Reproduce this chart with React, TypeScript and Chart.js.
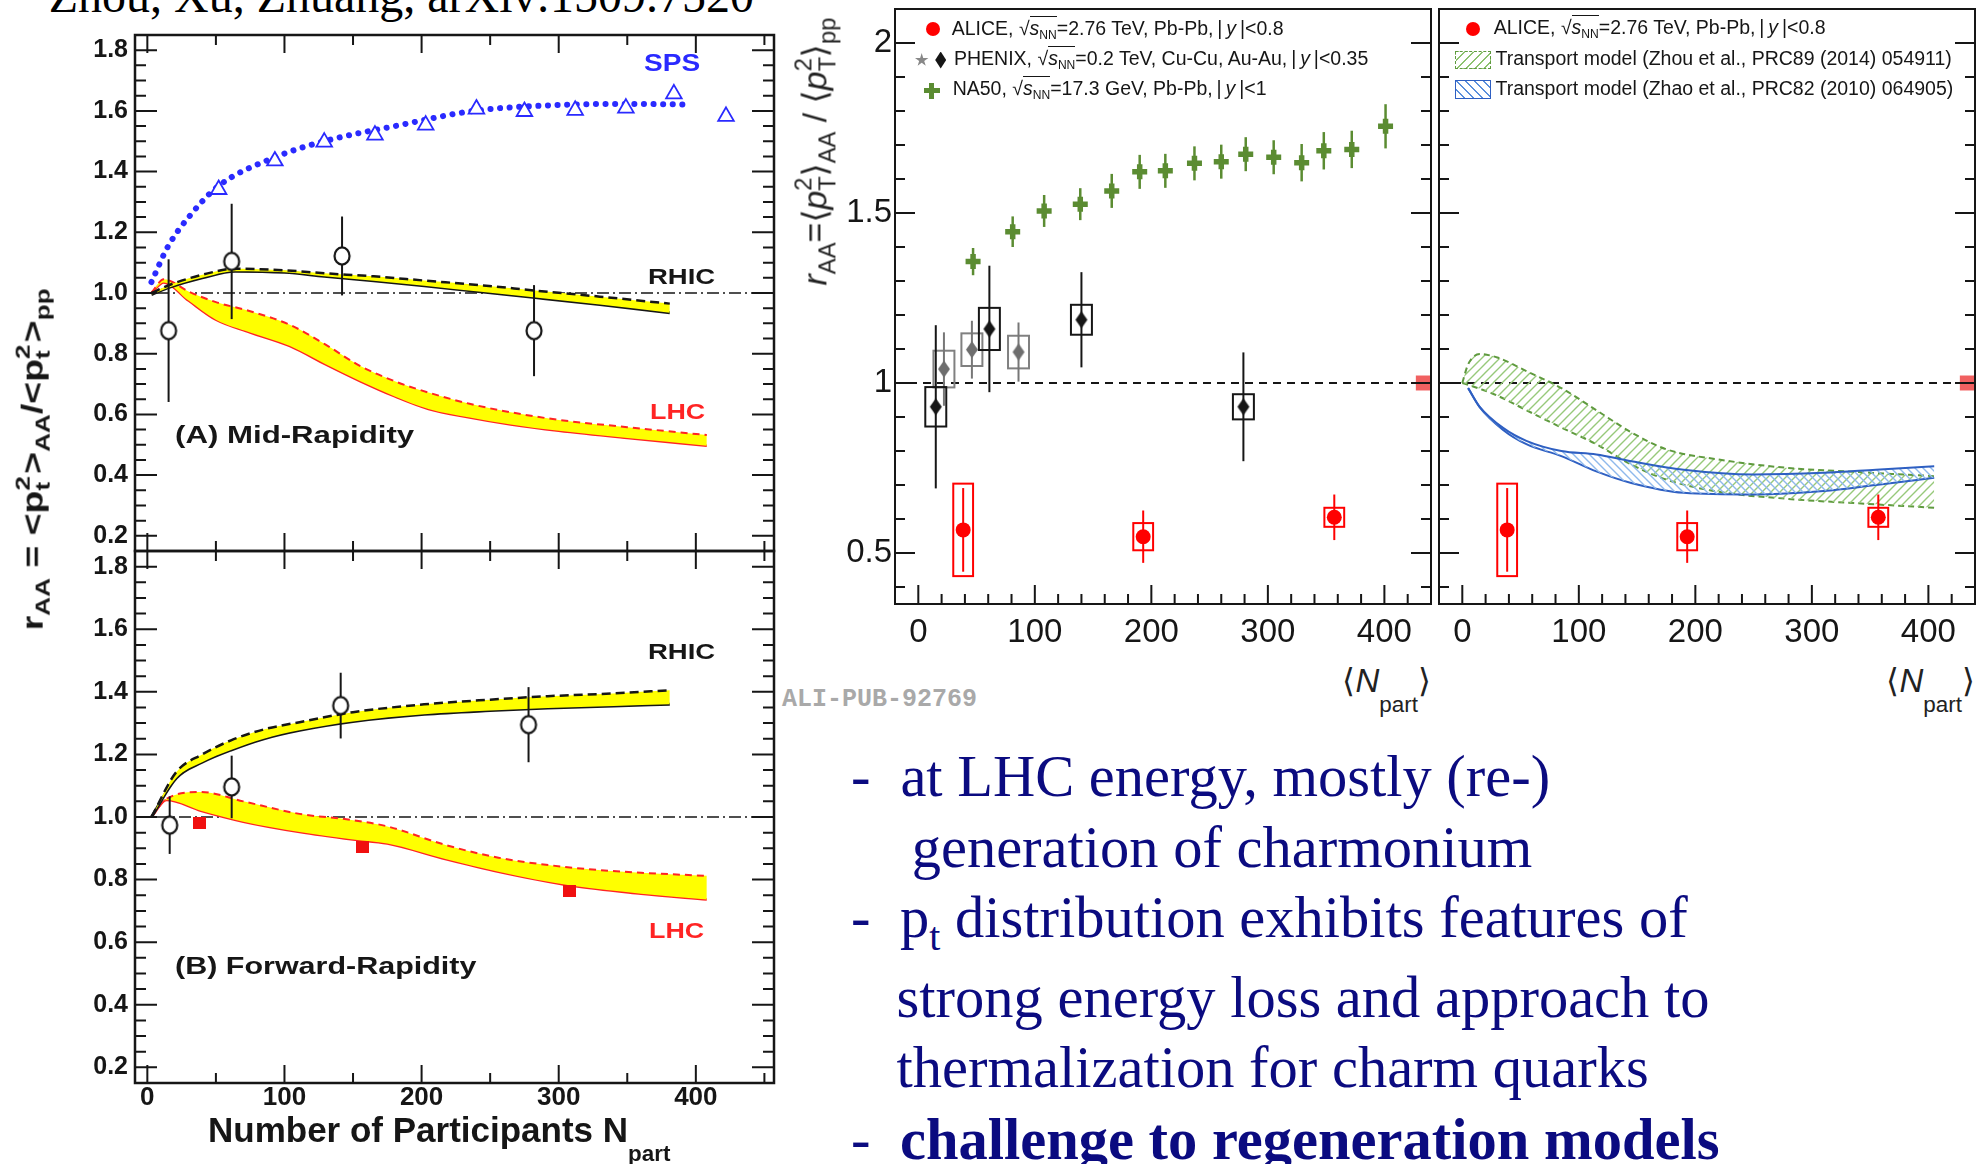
import React, { useEffect, useRef } from "react";
import { Chart, registerables } from "chart.js";

Chart.register(...registerables);

// ---------------- Left figure: transport model vs. data ----------------
const LEFT_X_RANGE: [number, number] = [-9, 457];
const LEFT_Y_RANGE: [number, number] = [0.15, 1.85];
const LEFT_X_TICKS = [0, 100, 200, 300, 400];
const LEFT_Y_TICKS = [0.2, 0.4, 0.6, 0.8, 1.0, 1.2, 1.4, 1.6, 1.8];

// (A) mid rapidity
const SPS_DATA_N = [52, 93, 129, 166, 203, 240, 275, 312, 349, 384, 422];
const SPS_DATA_R = [1.341, 1.435, 1.497, 1.52, 1.553, 1.606, 1.598, 1.602, 1.609, 1.656, 1.582];
const SPS_MODEL_N = [3, 15, 32, 52, 93, 129, 184, 238, 292, 346, 393];
const SPS_MODEL_R = [1.036, 1.153, 1.26, 1.353, 1.447, 1.5, 1.553, 1.6, 1.618, 1.623, 1.621];

const A_RHIC_DATA_N = [15.5, 61.5, 142, 282];
const A_RHIC_DATA_R = [0.876, 1.104, 1.122, 0.876];
const A_RHIC_DATA_ERR = [0.235, 0.19, 0.13, 0.15];

const A_RHIC_BAND_N = [3, 17, 40, 64, 100, 129, 165, 202, 245, 283, 330, 381];
const A_RHIC_BAND_HI = [1.0, 1.028, 1.06, 1.08, 1.075, 1.065, 1.055, 1.041, 1.025, 1.008, 0.988, 0.965];
const A_RHIC_BAND_LO = [0.995, 1.02, 1.05, 1.072, 1.068, 1.055, 1.04, 1.024, 1.003, 0.985, 0.962, 0.935];

const A_LHC_BAND_N = [3, 12, 30, 50, 75, 104, 130, 155, 180, 205, 235, 265, 300, 350, 408];
const A_LHC_BAND_HI = [1.0, 1.045, 1.005, 0.97, 0.94, 0.895, 0.83, 0.76, 0.71, 0.672, 0.635, 0.607, 0.582, 0.558, 0.532];
const A_LHC_BAND_LO = [1.0, 1.035, 0.975, 0.912, 0.87, 0.825, 0.765, 0.71, 0.66, 0.618, 0.59, 0.567, 0.546, 0.522, 0.497];

// (B) forward rapidity
const B_RHIC_DATA_N = [16.3, 61.5, 141, 278];
const B_RHIC_DATA_R = [0.974, 1.096, 1.356, 1.295];
const B_RHIC_DATA_ERR = [0.092, 0.1, 0.105, 0.12];

const B_LHC_DATA_N = [38, 157, 308];
const B_LHC_DATA_R = [0.982, 0.905, 0.762];

const B_RHIC_BAND_N = [3, 21, 40, 61, 85, 111, 150, 202, 250, 292, 340, 381];
const B_RHIC_BAND_HI = [1.0, 1.143, 1.2, 1.245, 1.28, 1.303, 1.335, 1.36, 1.375, 1.386, 1.395, 1.405];
const B_RHIC_BAND_LO = [1.0, 1.124, 1.175, 1.214, 1.25, 1.277, 1.305, 1.328, 1.34, 1.348, 1.355, 1.36];

const B_LHC_BAND_N = [3, 14, 39, 70, 111, 150, 175, 218, 256, 310, 360, 408];
const B_LHC_BAND_HI = [1.0, 1.058, 1.08, 1.05, 1.01, 0.99, 0.97, 0.91, 0.87, 0.838, 0.822, 0.812];
const B_LHC_BAND_LO = [1.0, 1.054, 1.02, 0.985, 0.952, 0.928, 0.915, 0.865, 0.825, 0.78, 0.755, 0.736];

const UNITY_LINE_N = [-9, 457];
const UNITY_LINE_R = [1, 1];

// ---------------- Right figure: ALICE r_AA ----------------
const ALICE_X_RANGE: [number, number] = [-20, 440];
const ALICE_Y_RANGE: [number, number] = [0.35, 2.1];
const ALICE_X_TICKS = [0, 100, 200, 300, 400];
const ALICE_Y_TICKS = [0.5, 1, 1.5, 2];

const ALICE_N = [38.5, 193, 357];
const ALICE_R = [0.568, 0.548, 0.605];
const ALICE_STAT = [0.123, 0.077, 0.067];
const ALICE_SYST = [0.136, 0.04, 0.028];
const ALICE_NORM_UNC = 0.022;

const PHENIX_AU_N = [15, 61, 140, 279];
const PHENIX_AU_R = [0.93, 1.159, 1.186, 0.93];
const PHENIX_AU_STAT = [0.24, 0.186, 0.14, 0.16];
const PHENIX_AU_SYST = [0.058, 0.062, 0.044, 0.037];

const PHENIX_CU_N = [22, 46, 86];
const PHENIX_CU_R = [1.041, 1.098, 1.091];
const PHENIX_CU_STAT = [0.108, 0.085, 0.087];
const PHENIX_CU_SYST = [0.054, 0.048, 0.048];

const NA50_N = [47, 81, 108, 139, 166, 190, 212, 237, 260, 281, 305, 329, 348, 372, 401];
const NA50_R = [1.357, 1.445, 1.506, 1.526, 1.565, 1.621, 1.624, 1.646, 1.651, 1.673, 1.664, 1.648, 1.683, 1.687, 1.755];
const NA50_ERR = [0.04, 0.045, 0.047, 0.047, 0.05, 0.05, 0.05, 0.05, 0.05, 0.05, 0.05, 0.055, 0.055, 0.055, 0.065];

const ZHOU_N = [0, 5, 15, 30, 55, 85, 115, 145, 175, 220, 280, 340, 405];
const ZHOU_HI = [1.0, 1.055, 1.085, 1.075, 1.035, 0.985, 0.92, 0.855, 0.805, 0.775, 0.75, 0.738, 0.726];
const ZHOU_LO = [1.0, 0.995, 0.983, 0.963, 0.92, 0.869, 0.82, 0.76, 0.716, 0.68, 0.659, 0.646, 0.633];

const ZHAO_N = [5, 15, 35, 55, 85, 115, 145, 190, 250, 310, 355, 405];
const ZHAO_HI = [0.985, 0.93, 0.868, 0.83, 0.8, 0.79, 0.77, 0.745, 0.731, 0.736, 0.745, 0.755];
const ZHAO_LO = [0.985, 0.928, 0.862, 0.82, 0.785, 0.74, 0.706, 0.677, 0.672, 0.682, 0.7, 0.721];

const ALICE_UNITY_N = [-20, 440];
const ALICE_UNITY_R = [1, 1];

// ---------------- colours ----------------
const INK = "#161616";
const YELLOW = "#ffff00";
const LHC_RED = "#ff2424";
const SPS_BLUE = "#2a2aff";
const NA50_GREEN = "#5b8c32";
const NAVY = "#0b0b80";

// ---------------- helpers ----------------
type Frame = { l: number; t: number; r: number; b: number };
type Pad = { l: number; t: number; r: number; b: number };

const pts = (xs: number[], ys: number[]) => xs.map((x, i) => ({ x, y: ys[i] }));

function minorsOf(min: number, max: number, step: number, majors: number[]) {
  const out: number[] = [];
  const start = Math.ceil(min / step - 1e-9) * step;
  for (let v = start; v <= max + 1e-9; v += step) {
    const r = Math.round(v * 1e6) / 1e6;
    if (majors.some((m) => Math.abs(m - r) < 1e-6)) continue;
    out.push(r);
  }
  return out;
}

function markerCanvas(w: number, h: number, draw: (c: CanvasRenderingContext2D) => void) {
  const c = document.createElement("canvas");
  c.width = w;
  c.height = h;
  draw(c.getContext("2d")!);
  return c;
}

function hatchPattern(target: CanvasRenderingContext2D, color: string, forward: boolean, size: number, lw: number) {
  const tile = markerCanvas(size, size, (c) => {
    c.strokeStyle = color;
    c.lineWidth = lw;
    c.beginPath();
    if (forward) {
      c.moveTo(0, size); c.lineTo(size, 0);
      c.moveTo(-size / 2, size / 2); c.lineTo(size / 2, -size / 2);
      c.moveTo(size / 2, size * 1.5); c.lineTo(size * 1.5, size / 2);
    } else {
      c.moveTo(0, 0); c.lineTo(size, size);
      c.moveTo(-size / 2, size / 2); c.lineTo(size / 2, size * 1.5);
      c.moveTo(size / 2, -size / 2); c.lineTo(size * 1.5, size / 2);
    }
    c.stroke();
  });
  return target.createPattern(tile, "repeat");
}

// Frame with inward ticks on chosen sides, plus optional normalisation box.
const frameTicks = {
  id: "frameTicks",
  afterDatasetsDraw(chart: any, _args: any, o: any) {
    const { ctx, chartArea: a } = chart;
    const xs = chart.scales.x;
    const ys = chart.scales.y;
    ctx.save();
    if (o.normBox) {
      const nb = o.normBox;
      const x0 = xs.getPixelForValue(nb.x0);
      const x1 = xs.getPixelForValue(nb.x1);
      const y0 = ys.getPixelForValue(1 + nb.half);
      const y1 = ys.getPixelForValue(1 - nb.half);
      ctx.fillStyle = nb.color;
      ctx.fillRect(x0, y0, x1 - x0, y1 - y0);
    }
    ctx.strokeStyle = o.color;
    ctx.lineWidth = o.tickWidth;
    ctx.beginPath();
    const tickX = (v: number, len: number) => {
      const p = xs.getPixelForValue(v);
      if (p <= a.left + 1 || p >= a.right - 1) return;
      if (o.xSides.includes("bottom")) { ctx.moveTo(p, a.bottom); ctx.lineTo(p, a.bottom - len); }
      if (o.xSides.includes("top")) { ctx.moveTo(p, a.top); ctx.lineTo(p, a.top + len); }
    };
    const tickY = (v: number, len: number) => {
      const p = ys.getPixelForValue(v);
      if (p <= a.top + 1 || p >= a.bottom - 1) return;
      if (o.ySides.includes("left")) { ctx.moveTo(a.left, p); ctx.lineTo(a.left + len, p); }
      if (o.ySides.includes("right")) { ctx.moveTo(a.right, p); ctx.lineTo(a.right - len, p); }
    };
    o.xMajor.forEach((v: number) => tickX(v, o.xLen[0]));
    minorsOf(xs.min, xs.max, o.xMinorStep, o.xMajor).forEach((v) => tickX(v, o.xLen[1]));
    o.yMajor.forEach((v: number) => tickY(v, o.yLen[0]));
    minorsOf(ys.min, ys.max, o.yMinorStep, o.yMajor).forEach((v) => tickY(v, o.yLen[1]));
    ctx.stroke();
    ctx.lineWidth = o.frameWidth;
    ctx.strokeRect(a.left, a.top, a.right - a.left, a.bottom - a.top);
    ctx.restore();
  },
};

// Vertical error bars and systematic boxes, drawn just under each dataset's markers.
const errorBars = {
  id: "errorBars",
  beforeDatasetDraw(chart: any, args: any) {
    const ds = chart.data.datasets[args.index];
    if (!ds.errY && !ds.sys) return;
    const { ctx } = chart;
    const xs = chart.scales.x;
    const ys = chart.scales.y;
    ctx.save();
    ds.data.forEach((p: any, i: number) => {
      const px = xs.getPixelForValue(p.x);
      if (ds.sys) {
        const s = ds.sys[i];
        const x0 = xs.getPixelForValue(p.x - ds.sysHalfW);
        const x1 = xs.getPixelForValue(p.x + ds.sysHalfW);
        const y0 = ys.getPixelForValue(p.y + s);
        const y1 = ys.getPixelForValue(p.y - s);
        ctx.strokeStyle = ds.sysColor;
        ctx.lineWidth = ds.sysWidth;
        ctx.strokeRect(x0, y0, x1 - x0, y1 - y0);
      }
      if (ds.errY) {
        const e = ds.errY[i];
        ctx.strokeStyle = ds.errColor;
        ctx.lineWidth = ds.errWidth;
        ctx.beginPath();
        ctx.moveTo(px, ys.getPixelForValue(p.y + e));
        ctx.lineTo(px, ys.getPixelForValue(p.y - e));
        ctx.stroke();
      }
    });
    ctx.restore();
  },
};

type Spec = {
  frame: Frame;
  pad: Pad;
  xRange: [number, number];
  yRange: [number, number];
  xTicks: number[];
  yTicks: number[];
  xMinor: number;
  yMinor: number;
  xLabels: boolean;
  yLabels: boolean;
  xFont: any;
  yFont: any;
  xPad: number;
  yPad: number;
  yFmt: (v: number) => string;
  xSides: string[];
  ySides: string[];
  xLen: [number, number];
  yLen: [number, number];
  frameWidth: number;
  normBox?: any;
  datasets: (ctx: CanvasRenderingContext2D) => any[];
};

function buildConfig(spec: Spec, ctx: CanvasRenderingContext2D): any {
  const { pad } = spec;
  return {
    type: "line",
    data: { datasets: spec.datasets(ctx) },
    options: {
      responsive: false,
      animation: false,
      events: [],
      layout: { autoPadding: false, padding: { left: 0, top: pad.t, right: pad.r, bottom: 0 } },
      plugins: {
        legend: { display: false },
        tooltip: { enabled: false },
        colors: { enabled: false },
        frameTicks: {
          color: INK,
          tickWidth: 2,
          frameWidth: spec.frameWidth,
          xMajor: spec.xTicks,
          yMajor: spec.yTicks,
          xMinorStep: spec.xMinor,
          yMinorStep: spec.yMinor,
          xSides: spec.xSides,
          ySides: spec.ySides,
          xLen: spec.xLen,
          yLen: spec.yLen,
          normBox: spec.normBox,
        },
      },
      scales: {
        x: {
          type: "linear",
          min: spec.xRange[0],
          max: spec.xRange[1],
          grid: { display: false, drawTicks: false },
          border: { display: false },
          ticks: {
            display: spec.xLabels,
            font: spec.xFont,
            color: INK,
            padding: spec.xPad,
            maxRotation: 0,
            autoSkip: false,
            callback: (v: any) => String(v),
          },
          afterBuildTicks: (s: any) => {
            s.ticks = spec.xTicks.map((v) => ({ value: v }));
          },
          afterFit: (s: any) => {
            s.height = pad.b;
            s.paddingLeft = 0;
            s.paddingRight = 0;
            s.paddingTop = 0;
            s.paddingBottom = 0;
          },
        },
        y: {
          type: "linear",
          min: spec.yRange[0],
          max: spec.yRange[1],
          grid: { display: false, drawTicks: false },
          border: { display: false },
          ticks: {
            display: spec.yLabels,
            font: spec.yFont,
            color: INK,
            padding: spec.yPad,
            autoSkip: false,
            callback: (v: any) => spec.yFmt(Number(v)),
          },
          afterBuildTicks: (s: any) => {
            s.ticks = spec.yTicks.map((v) => ({ value: v }));
          },
          afterFit: (s: any) => {
            s.width = pad.l;
            s.paddingLeft = 0;
            s.paddingRight = 0;
            s.paddingTop = 0;
            s.paddingBottom = 0;
          },
        },
      },
    },
    plugins: [frameTicks, errorBars],
  };
}

function PlotCanvas({ spec }: { spec: Spec }) {
  const ref = useRef<HTMLCanvasElement>(null);
  const { frame: f, pad } = spec;
  const left = f.l - pad.l;
  const top = f.t - pad.t;
  const width = f.r - f.l + pad.l + pad.r;
  const height = f.b - f.t + pad.t + pad.b;
  useEffect(() => {
    const canvas = ref.current!;
    const chart = new Chart(canvas, buildConfig(spec, canvas.getContext("2d")!));
    return () => chart.destroy();
  }, []);
  return (
    <canvas
      ref={ref}
      width={width}
      height={height}
      style={{ position: "absolute", left, top, width, height }}
    />
  );
}

// ---------------- dataset builders ----------------
const curve = (n: number[], r: number[], color: string, width: number, dash: number[] = [], extra: any = {}) => ({
  data: pts(n, r),
  showLine: true,
  pointRadius: 0,
  borderColor: color,
  borderWidth: width,
  borderDash: dash,
  cubicInterpolationMode: "monotone",
  fill: false,
  ...extra,
});

const unityDashDot = () => curve(UNITY_LINE_N, UNITY_LINE_R, INK, 1.5, [12, 4, 2, 4]);

function openCircle() {
  return markerCanvas(20, 22, (c) => {
    c.beginPath();
    c.ellipse(10, 11, 7.5, 8.6, 0, 0, Math.PI * 2);
    c.fillStyle = "#fff";
    c.fill();
    c.lineWidth = 2.2;
    c.strokeStyle = INK;
    c.stroke();
  });
}

function diamond(color: string) {
  return markerCanvas(14, 19, (c) => {
    c.beginPath();
    c.moveTo(7, 1);
    c.lineTo(13, 9.5);
    c.lineTo(7, 18);
    c.lineTo(1, 9.5);
    c.closePath();
    c.fillStyle = color;
    c.fill();
  });
}

function redSquare() {
  return markerCanvas(13, 12, (c) => {
    c.fillStyle = "#f01010";
    c.fillRect(0, 0, 13, 12);
  });
}

const leftCommon = {
  xRange: LEFT_X_RANGE,
  yRange: LEFT_Y_RANGE,
  xTicks: LEFT_X_TICKS,
  yTicks: LEFT_Y_TICKS,
  xMinor: 50,
  yMinor: 0.05,
  yLabels: true,
  xFont: { family: "Liberation Sans", size: 26, weight: "bold", lineHeight: 1 },
  yFont: { family: "Liberation Sans", size: 25, weight: "bold", lineHeight: 1 },
  xPad: 2,
  yPad: 7,
  yFmt: (v: number) => v.toFixed(1),
  xSides: ["bottom", "top"],
  ySides: ["left", "right"],
  xLen: [18, 10] as [number, number],
  yLen: [22, 11] as [number, number],
  frameWidth: 2.5,
};

const panelA: Spec = {
  ...leftCommon,
  frame: { l: 135, t: 35, r: 774, b: 551 },
  pad: { l: 135, t: 3, r: 4, b: 3 },
  xLabels: false,
  datasets: () => [
    {
      label: "RHIC data",
      data: pts(A_RHIC_DATA_N, A_RHIC_DATA_R),
      showLine: false,
      pointStyle: openCircle(),
      pointRadius: 9,
      errY: A_RHIC_DATA_ERR,
      errColor: INK,
      errWidth: 2,
    },
    {
      label: "SPS data",
      data: pts(SPS_DATA_N, SPS_DATA_R),
      showLine: false,
      pointStyle: "triangle",
      pointRadius: 9,
      pointBackgroundColor: "#fff",
      pointBorderColor: SPS_BLUE,
      pointBorderWidth: 1.8,
    },
    curve(SPS_MODEL_N, SPS_MODEL_R, SPS_BLUE, 6, [0.1, 9.5], { borderCapStyle: "round" }),
    curve(A_RHIC_BAND_N, A_RHIC_BAND_HI, INK, 2.5, [9, 5], { fill: "+1", backgroundColor: YELLOW }),
    curve(A_RHIC_BAND_N, A_RHIC_BAND_LO, INK, 3),
    curve(A_LHC_BAND_N, A_LHC_BAND_HI, LHC_RED, 2, [7, 5], { fill: "+1", backgroundColor: YELLOW }),
    curve(A_LHC_BAND_N, A_LHC_BAND_LO, LHC_RED, 2.5),
    unityDashDot(),
  ],
};

const panelB: Spec = {
  ...leftCommon,
  frame: { l: 135, t: 551, r: 774, b: 1083 },
  pad: { l: 135, t: 3, r: 4, b: 40 },
  xLabels: true,
  datasets: () => [
    {
      label: "RHIC data",
      data: pts(B_RHIC_DATA_N, B_RHIC_DATA_R),
      showLine: false,
      pointStyle: openCircle(),
      pointRadius: 9,
      errY: B_RHIC_DATA_ERR,
      errColor: INK,
      errWidth: 2,
    },
    {
      label: "LHC data",
      data: pts(B_LHC_DATA_N, B_LHC_DATA_R),
      showLine: false,
      pointStyle: redSquare(),
      pointRadius: 7,
    },
    curve(B_RHIC_BAND_N, B_RHIC_BAND_HI, INK, 2.5, [9, 5], { fill: "+1", backgroundColor: YELLOW }),
    curve(B_RHIC_BAND_N, B_RHIC_BAND_LO, INK, 3),
    curve(B_LHC_BAND_N, B_LHC_BAND_HI, LHC_RED, 2, [7, 5], { fill: "+1", backgroundColor: YELLOW }),
    curve(B_LHC_BAND_N, B_LHC_BAND_LO, LHC_RED, 2.5),
    unityDashDot(),
  ],
};

const aliceSeries = () => ({
  label: "ALICE",
  data: pts(ALICE_N, ALICE_R),
  showLine: false,
  pointStyle: "circle",
  pointRadius: 7.5,
  pointBackgroundColor: "#ff0000",
  pointBorderColor: "#ff0000",
  pointBorderWidth: 0,
  errY: ALICE_STAT,
  errColor: "#ff0000",
  errWidth: 2,
  sys: ALICE_SYST,
  sysHalfW: 8.5,
  sysColor: "#ff0000",
  sysWidth: 2,
});

const aliceUnity = () => curve(ALICE_UNITY_N, ALICE_UNITY_R, INK, 2, [8, 6], { cubicInterpolationMode: "default" });

const aliceCommon = {
  xRange: ALICE_X_RANGE,
  yRange: ALICE_Y_RANGE,
  xTicks: ALICE_X_TICKS,
  yTicks: ALICE_Y_TICKS,
  xMinor: 20,
  yMinor: 0.1,
  xLabels: true,
  xFont: { family: "Liberation Sans", size: 33, lineHeight: 1 },
  yFont: { family: "Liberation Sans", size: 33, lineHeight: 1 },
  xPad: 12,
  yPad: 3,
  yFmt: (v: number) => String(v),
  xSides: ["bottom"],
  ySides: ["left", "right"],
  xLen: [19, 10] as [number, number],
  yLen: [20, 10] as [number, number],
  frameWidth: 2,
  normBox: { x0: 427, x1: 440, half: ALICE_NORM_UNC, color: "rgba(240,80,80,0.9)" },
};

const aliceLeft: Spec = {
  ...aliceCommon,
  frame: { l: 895, t: 9, r: 1431, b: 604 },
  pad: { l: 75, t: 3, r: 3, b: 50 },
  yLabels: true,
  datasets: () => [
    aliceSeries(),
    {
      label: "PHENIX Au-Au",
      data: pts(PHENIX_AU_N, PHENIX_AU_R),
      showLine: false,
      pointStyle: diamond(INK),
      pointRadius: 8,
      errY: PHENIX_AU_STAT,
      errColor: INK,
      errWidth: 2,
      sys: PHENIX_AU_SYST,
      sysHalfW: 9,
      sysColor: INK,
      sysWidth: 2,
    },
    {
      label: "PHENIX Cu-Cu",
      data: pts(PHENIX_CU_N, PHENIX_CU_R),
      showLine: false,
      pointStyle: diamond("#6e6e6e"),
      pointRadius: 8,
      errY: PHENIX_CU_STAT,
      errColor: "#777",
      errWidth: 2,
      sys: PHENIX_CU_SYST,
      sysHalfW: 9,
      sysColor: "#808080",
      sysWidth: 2,
    },
    {
      label: "NA50",
      data: pts(NA50_N, NA50_R),
      showLine: false,
      pointStyle: "cross",
      pointRadius: 7.5,
      pointBorderColor: NA50_GREEN,
      pointBorderWidth: 5.5,
      errY: NA50_ERR,
      errColor: NA50_GREEN,
      errWidth: 2.5,
    },
    aliceUnity(),
  ],
};

const aliceRight: Spec = {
  ...aliceCommon,
  frame: { l: 1439, t: 9, r: 1975, b: 604 },
  pad: { l: 10, t: 3, r: 2, b: 50 },
  yLabels: false,
  datasets: (ctx) => [
    aliceSeries(),
    curve(ZHAO_N, ZHAO_HI, "#2e5fc2", 2, [], {
      fill: "+1",
      backgroundColor: hatchPattern(ctx, "#8fb9ec", false, 8, 1.4),
    }),
    curve(ZHAO_N, ZHAO_LO, "#2e5fc2", 2),
    curve(ZHOU_N, ZHOU_HI, "#5f9a3e", 2, [6, 4], {
      fill: "+1",
      backgroundColor: hatchPattern(ctx, "#97c97a", true, 9, 1.4),
    }),
    curve(ZHOU_N, ZHOU_LO, "#5f9a3e", 2, [6, 4]),
    aliceUnity(),
  ],
};

// ---------------- text helpers ----------------
type TProps = {
  x: number;
  y: number;
  size: number;
  family?: string;
  weight?: number | string;
  color?: string;
  italic?: boolean;
  rot?: number;
  sx?: number;
  anchor?: "start" | "end";
  children: React.ReactNode;
};

// x, y give the left end of the text baseline.
function T({ x, y, size, family = "Liberation Sans", weight = 400, color = INK, italic = false, rot = 0, sx = 1, anchor = "start", children }: TProps) {
  const asc = size * 0.84;
  const tr: string[] = [];
  if (rot) tr.push(`rotate(${rot}deg)`);
  if (sx !== 1) tr.push(`scaleX(${sx})`);
  if (anchor === "end") tr.push("translateX(-100%)");
  return (
    <div
      style={{
        position: "absolute",
        left: x,
        top: y - asc,
        fontSize: size,
        lineHeight: `${size}px`,
        fontFamily: family,
        fontWeight: weight as any,
        fontStyle: italic ? "italic" : "normal",
        color,
        whiteSpace: "nowrap",
        transformOrigin: `0px ${asc}px`,
        transform: tr.length ? tr.join(" ") : undefined,
      }}
    >
      {children}
    </div>
  );
}

const Sub = ({ children, s = 0.7, drop = 0.25 }: { children: React.ReactNode; s?: number; drop?: number }) => (
  <span style={{ fontSize: `${s}em`, position: "relative", top: `${drop / s}em` }}>{children}</span>
);

const SupSub = ({ sup, sub, w = 0.45, s = 0.7, rise = 0.45, drop = 0.25 }: { sup: string; sub: string; w?: number; s?: number; rise?: number; drop?: number }) => (
  <span style={{ display: "inline-block", position: "relative", width: `${w}em`, height: 0 }}>
    <span style={{ position: "absolute", left: 0, top: `${(-rise - 0.84 * s) / s}em`, fontSize: `${s}em`, lineHeight: 1 }}>{sup}</span>
    <span style={{ position: "absolute", left: 0, top: `${(drop - 0.84 * s) / s}em`, fontSize: `${s}em`, lineHeight: 1 }}>{sub}</span>
  </span>
);

const Bar = ({ children }: { children: React.ReactNode }) => (
  <span style={{ borderTop: "1.4px solid currentColor" }}>{children}</span>
);

const Sqrt = () => (
  <>
    √<Bar>
      <i>s</i>
      <Sub s={0.62} drop={0.2}>NN</Sub>
    </Bar>
  </>
);

const AbsY = ({ lim }: { lim: string }) => (
  <>
    {"\u2009|\u2009"}
    <i>y</i>
    {"\u2009|"}&lt;{lim}
  </>
);

const Box = ({ cx, cy, w, h, style }: { cx: number; cy: number; w: number; h: number; style: React.CSSProperties }) => (
  <div style={{ position: "absolute", left: cx - w / 2, top: cy - h / 2, width: w, height: h, ...style }} />
);

const DIAMOND_CLIP = "polygon(50% 0, 100% 50%, 50% 100%, 0 50%)";
const STAR_CLIP = "polygon(50% 0%, 61% 35%, 98% 35%, 68% 57%, 79% 91%, 50% 70%, 21% 91%, 32% 57%, 2% 35%, 39% 35%)";

const LEG = 19.5;

export default function App() {
  useEffect(() => {
    document.body.style.margin = "0";
  }, []);

  return (
    <div style={{ position: "absolute", left: 0, top: 0, width: 1977, height: 1164, overflow: "hidden", background: "#fff" }}>
      <PlotCanvas spec={panelA} />
      <PlotCanvas spec={panelB} />
      <PlotCanvas spec={aliceLeft} />
      <PlotCanvas spec={aliceRight} />

      {/* left figure texts */}
      <T x={48.7} y={12.7} size={48} family="Liberation Serif" color="#000">
        Zhou, Xu, Zhuang, arXiv:1509.7520
      </T>
      <T x={643.6} y={71.7} size={23} weight="bold" color={SPS_BLUE} sx={1.22}>SPS</T>
      <T x={647.5} y={284} size={22} weight="bold" sx={1.25}>RHIC</T>
      <T x={650} y={419.6} size={22} weight="bold" color={LHC_RED} sx={1.22}>LHC</T>
      <T x={175} y={442.9} size={24} weight="bold" sx={1.3}>(A) Mid-Rapidity</T>
      <T x={647.5} y={659.4} size={22} weight="bold" sx={1.25}>RHIC</T>
      <T x={648.5} y={938} size={22} weight="bold" color={LHC_RED} sx={1.22}>LHC</T>
      <T x={175} y={974.5} size={24} weight="bold" sx={1.27}>(B) Forward-Rapidity</T>
      <T x={208} y={1141} size={35} weight="bold">
        Number of Participants N<Sub s={0.64} drop={0.56}>part</Sub>
      </T>
      <T x={43} y={630} size={29} weight="bold" rot={-90} sx={1.29}>
        r<Sub>AA</Sub> = &lt;p<SupSub sup="2" sub="t" />&gt;<Sub>AA</Sub>/&lt;p<SupSub sup="2" sub="t" />&gt;<Sub>pp</Sub>
      </T>

      {/* ALICE texts */}
      <T x={826} y={286} size={34} rot={-90} color="#222">
        <i>r</i>
        <Sub>AA</Sub>=⟨<i>p</i>
        <SupSub sup="2" sub="T" w={0.42} />⟩<Sub>AA</Sub> / ⟨<i>p</i>
        <SupSub sup="2" sub="T" w={0.42} />⟩<Sub>pp</Sub>
      </T>
      <T x={1431} y={692} size={33} anchor="end" color="#222">
        ⟨<i>N</i>
        <Sub s={0.68} drop={0.6}>part</Sub>⟩
      </T>
      <T x={1975} y={692} size={33} anchor="end" color="#222">
        ⟨<i>N</i>
        <Sub s={0.68} drop={0.6}>part</Sub>⟩
      </T>
      <T x={782} y={708} size={25} family="Liberation Mono" weight="bold" color="#a9a9a9">ALI-PUB-92769</T>

      {/* ALICE legend, left panel */}
      <Box cx={933.3} cy={29.3} w={14} h={14} style={{ borderRadius: "50%", background: "#ff0000" }} />
      <T x={951.7} y={35} size={LEG}>
        ALICE, <Sqrt />=2.76 TeV, Pb-Pb,<AbsY lim="0.8" />
      </T>
      <Box cx={921.7} cy={60} w={14} h={14} style={{ background: "#888", clipPath: STAR_CLIP }} />
      <Box cx={940.7} cy={60} w={11} h={17} style={{ background: INK, clipPath: DIAMOND_CLIP }} />
      <T x={954} y={65} size={LEG}>
        PHENIX, <Sqrt />=0.2 TeV, Cu-Cu, Au-Au,<AbsY lim="0.35" />
      </T>
      <Box cx={931.7} cy={90.7} w={16} h={5.5} style={{ background: NA50_GREEN }} />
      <Box cx={931.7} cy={90.7} w={5.5} h={16} style={{ background: NA50_GREEN }} />
      <T x={952.7} y={95.7} size={LEG}>
        NA50, <Sqrt />=17.3 GeV, Pb-Pb,<AbsY lim="1" />
      </T>

      {/* ALICE legend, right panel */}
      <Box cx={1473.2} cy={29.3} w={14} h={14} style={{ borderRadius: "50%", background: "#ff0000" }} />
      <T x={1493.7} y={34} size={LEG}>
        ALICE, <Sqrt />=2.76 TeV, Pb-Pb,<AbsY lim="0.8" />
      </T>
      <Box
        cx={1473.2}
        cy={60}
        w={36}
        h={18}
        style={{
          boxSizing: "border-box",
          border: "1.5px dashed #5f9a3e",
          background: "repeating-linear-gradient(135deg, transparent 0 5px, #8dc26f 5px 6.5px)",
        }}
      />
      <T x={1495.5} y={65} size={LEG}>Transport model (Zhou et al., PRC89 (2014) 054911)</T>
      <Box
        cx={1473.2}
        cy={89.7}
        w={36}
        h={19}
        style={{
          boxSizing: "border-box",
          border: "1.5px solid #2e5fc2",
          background: "repeating-linear-gradient(45deg, transparent 0 5px, #5a8fdc 5px 6.5px)",
        }}
      />
      <T x={1495.5} y={95} size={LEG}>Transport model (Zhao et al., PRC82 (2010) 064905)</T>

      {/* summary bullets */}
      <T x={851} y={797} size={58.5} family="Liberation Serif" color={NAVY}>-</T>
      <T x={900.4} y={797} size={58.5} family="Liberation Serif" color={NAVY}>at LHC energy, mostly (re-)</T>
      <T x={911.7} y={867.7} size={58.5} family="Liberation Serif" color={NAVY}>generation of charmonium</T>
      <T x={851} y={938.3} size={58.5} family="Liberation Serif" color={NAVY}>-</T>
      <T x={900} y={938.3} size={58.5} family="Liberation Serif" color={NAVY}>
        p<Sub s={0.68} drop={0.22}>t</Sub> distribution exhibits features of
      </T>
      <T x={896.6} y={1017.7} size={58.5} family="Liberation Serif" color={NAVY}>strong energy loss and approach to</T>
      <T x={896.6} y={1088.3} size={58.5} family="Liberation Serif" color={NAVY}>thermalization for charm quarks</T>
      <T x={851} y={1160} size={58.5} family="Liberation Serif" color={NAVY}>-</T>
      <T x={900} y={1160} size={58.5} family="Liberation Serif" weight="bold" color={NAVY}>challenge to regeneration models</T>
    </div>
  );
}
